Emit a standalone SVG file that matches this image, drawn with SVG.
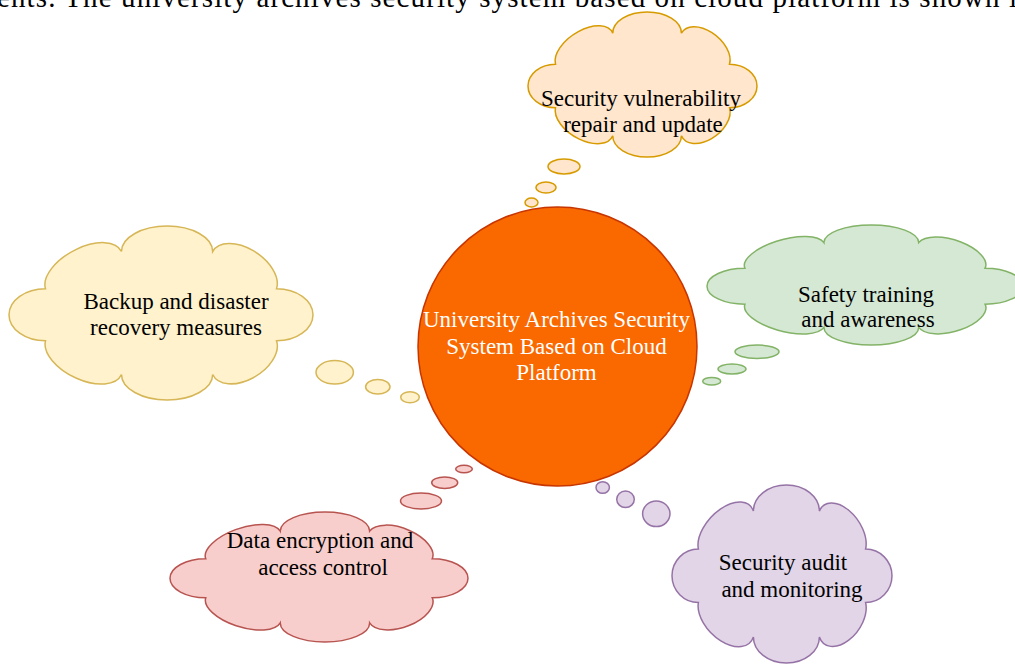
<svg xmlns="http://www.w3.org/2000/svg" width="1015" height="664" viewBox="0 0 1015 664">
<style>
text{font-family:"Liberation Serif","Times New Roman",serif;font-size:23px;fill:#000;text-anchor:middle}
.title{font-size:29px;text-anchor:start}
.w{fill:#fff}
.cl{stroke-width:1.5px;vector-effect:non-scaling-stroke}
.b{stroke-width:1.5}
.or{fill:#ffe6cc;stroke:#d79b00}
.ye{fill:#fff2cc;stroke:#d6b656}
.gr{fill:#d5e8d4;stroke:#82b366}
.rd{fill:#f8cecc;stroke:#b85450}
.pu{fill:#e1d5e7;stroke:#9673a6}
</style>
<rect width="1015" height="664" fill="#fff"/>
<text class="title" x="-3" y="7" textLength="1020" lengthAdjust="spacing">ents. The university archives security system based on cloud platform is shown i</text>

<g id="connectors">
  <ellipse class="b or" cx="564" cy="166.5" rx="16" ry="7.5"/>
  <ellipse class="b or" cx="546" cy="187.5" rx="10" ry="5.5"/>
  <ellipse class="b or" cx="531.5" cy="202.5" rx="6.5" ry="4.5"/>
  <ellipse class="b ye" cx="334.7" cy="372.3" rx="18.7" ry="11.7"/>
  <ellipse class="b ye" cx="377.8" cy="386.7" rx="12.2" ry="7.3"/>
  <ellipse class="b ye" cx="410" cy="397.2" rx="9.3" ry="5.5"/>
  <ellipse class="b gr" cx="757" cy="351.7" rx="22" ry="6.7"/>
  <ellipse class="b gr" cx="732" cy="369" rx="14" ry="5"/>
  <ellipse class="b gr" cx="711.7" cy="381.2" rx="9" ry="3.8"/>
  <ellipse class="b rd" cx="421" cy="501" rx="20.5" ry="8"/>
  <ellipse class="b rd" cx="444.7" cy="482.7" rx="13" ry="5.7"/>
  <ellipse class="b rd" cx="464" cy="469" rx="8.3" ry="3.8"/>
  <ellipse class="b pu" cx="602.7" cy="487.5" rx="6.7" ry="5.8"/>
  <ellipse class="b pu" cx="625.5" cy="499.3" rx="8.8" ry="8.3"/>
  <ellipse class="b pu" cx="656.3" cy="513.8" rx="13.7" ry="12.8"/>
</g>

<g id="center">
  <circle cx="557.5" cy="346.5" r="139.5" fill="#fa6800" stroke="#c73500" stroke-width="1.5"/>
  <text class="w" x="556.5" y="327">University Archives Security</text>
  <text class="w" x="556.5" y="353.5">System Based on Cloud</text>
  <text class="w" x="556.5" y="380">Platform</text>
</g>

<g id="vulnerability">
  <path class="cl or" transform="translate(528,12) scale(0.7633,0.9667)" d="M36 54A40.8 20 -23.1 0 1 111 22A45 22 0 0 1 201 22A35.4 20 26.9 0 1 264 54A22.5 36 90 0 1 264 99A34.7 20 155.3 0 1 201 128A45 22 180 0 1 111 128A40.25 20 201.1 0 1 36 99A22.5 36 -90 0 1 36 54Z"/>
  <text x="641" y="106">Security vulnerability</text>
  <text x="643" y="132">repair and update</text>
</g>

<g id="backup">
  <path class="cl ye" transform="translate(9,226) scale(1.0133,1.16)" d="M36 54A40.8 20 -23.1 0 1 111 22A45 22 0 0 1 201 22A35.4 20 26.9 0 1 264 54A22.5 36 90 0 1 264 99A34.7 20 155.3 0 1 201 128A45 22 180 0 1 111 128A40.25 20 201.1 0 1 36 99A22.5 36 -90 0 1 36 54Z"/>
  <text x="176" y="309">Backup and disaster</text>
  <text x="176" y="335">recovery measures</text>
</g>

<g id="training">
  <path class="cl gr" transform="translate(707,225) scale(1.0533,0.8)" d="M36 54A40.8 20 -23.1 0 1 111 22A45 22 0 0 1 201 22A35.4 20 26.9 0 1 264 54A22.5 36 90 0 1 264 99A34.7 20 155.3 0 1 201 128A45 22 180 0 1 111 128A40.25 20 201.1 0 1 36 99A22.5 36 -90 0 1 36 54Z"/>
  <text x="866" y="302">Safety training</text>
  <text x="868" y="327">and awareness</text>
</g>

<g id="encryption">
  <path class="cl rd" transform="translate(170,512) scale(0.9933,0.8667)" d="M36 54A40.8 20 -23.1 0 1 111 22A45 22 0 0 1 201 22A35.4 20 26.9 0 1 264 54A22.5 36 90 0 1 264 99A34.7 20 155.3 0 1 201 128A45 22 180 0 1 111 128A40.25 20 201.1 0 1 36 99A22.5 36 -90 0 1 36 54Z"/>
  <text x="320" y="548">Data encryption and</text>
  <text x="323" y="575">access control</text>
</g>

<g id="audit">
  <path class="cl pu" transform="translate(672,485) scale(0.7333,1.1867)" d="M36 54A40.8 20 -23.1 0 1 111 22A45 22 0 0 1 201 22A35.4 20 26.9 0 1 264 54A22.5 36 90 0 1 264 99A34.7 20 155.3 0 1 201 128A45 22 180 0 1 111 128A40.25 20 201.1 0 1 36 99A22.5 36 -90 0 1 36 54Z"/>
  <text x="783" y="570">Security audit</text>
  <text x="792" y="597">and monitoring</text>
</g>
</svg>
